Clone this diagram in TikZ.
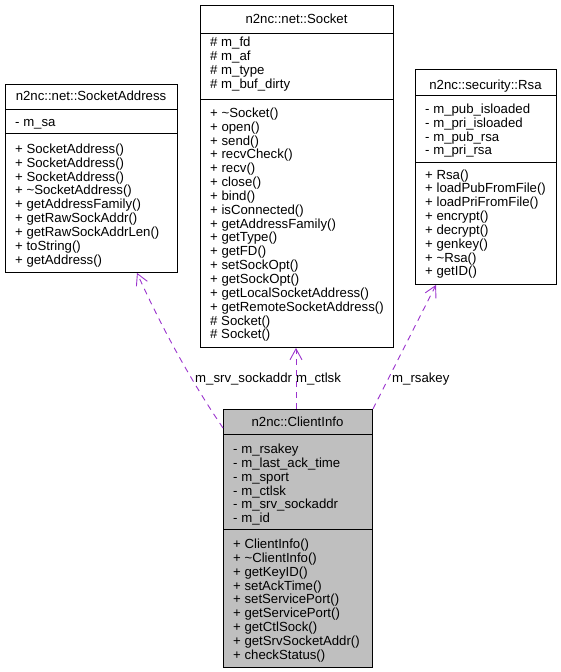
\documentclass[tikz,border=0pt]{standalone}
\usepackage{fontspec}
\setmainfont{Liberation Sans}
\usetikzlibrary{arrows.meta,calc}
\definecolor{usecol}{HTML}{9A32CD}
\definecolor{cifill}{HTML}{BFBFBF}
\tikzset{
  cls/.style={draw=black, line width=0.9pt, inner sep=0pt, anchor=north west},
  sepline/.style={draw=black, line width=0.9pt},
  row/.style={inner sep=0pt, anchor=base west, font=\fontsize{13.2}{13.85}\selectfont},
  ttl/.style={inner sep=0pt, anchor=base, font=\fontsize{13.2}{13.85}\selectfont},
  uses/.style={draw=usecol, line width=0.9pt, dash pattern=on 6pt off 5pt,
    -{Straight Barb[length=11pt,width=12pt,line width=0.9pt]}},
  lbl/.style={inner sep=0pt, anchor=base west, font=\fontsize{13.2}{13.85}\selectfont}
}
\begin{document}
\begin{tikzpicture}[x={(1pt,0)}, y={(0,-1pt)}]
\useasboundingbox (0,0) rectangle (560,672);

% ---- n2nc::net::SocketAddress
\node[cls, minimum width=172pt, minimum height=188pt] (sa) at (5,84) {};
\draw[sepline] (5,109) -- (177,109);
\draw[sepline] (5,133) -- (177,133);
\node[ttl] (sa-t) at (91,100.7) {n2nc::net::SocketAddress};
\node[row] (sa-a1) at (15,126.7) {- m\_sa};
\foreach \t [count=\i] in {+ SocketAddress(), + SocketAddress(), + SocketAddress(),
  + \textasciitilde SocketAddress(), + getAddressFamily(), + getRawSockAddr(),
  + getRawSockAddrLen(), + toString(), + getAddress()}
  \node[row] (sa-m\i) at (15,{153.3+(\i-1)*13.85}) {\t};

% ---- n2nc::net::Socket
\node[cls, minimum width=193pt, minimum height=342pt] (sock) at (200,5) {};
\draw[sepline] (200,33) -- (393,33);
\draw[sepline] (200,99) -- (393,99);
\node[ttl] (sock-t) at (296.5,23) {n2nc::net::Socket};
\foreach \t [count=\i] in {\# m\_fd, \# m\_af, \# m\_type, \# m\_buf\_dirty}
  \node[row] (sock-a\i) at (210,{46.7+(\i-1)*13.85}) {\t};
\foreach \t [count=\i] in {+ \textasciitilde Socket(), + open(), + send(), + recvCheck(),
  + recv(), + close(), + bind(), + isConnected(), + getAddressFamily(), + getType(),
  + getFD(), + setSockOpt(), + getSockOpt(), + getLocalSocketAddress(),
  + getRemoteSocketAddress(), \# Socket(), \# Socket()}
  \node[row] (sock-m\i) at (210,{117.3+(\i-1)*13.85}) {\t};

% ---- n2nc::security::Rsa
\node[cls, minimum width=141pt, minimum height=215pt] (rsa) at (415,69) {};
\draw[sepline] (415,95) -- (556,95);
\draw[sepline] (415,162) -- (556,162);
\node[ttl] (rsa-t) at (485.5,89) {n2nc::security::Rsa};
\foreach \t [count=\i] in {- m\_pub\_isloaded, - m\_pri\_isloaded, - m\_pub\_rsa, - m\_pri\_rsa}
  \node[row] (rsa-a\i) at (425,{113.3+(\i-1)*13.85}) {\t};
\foreach \t [count=\i] in {+ Rsa(), + loadPubFromFile(), + loadPriFromFile(), + encrypt(),
  + decrypt(), + genkey(), + \textasciitilde Rsa(), + getID()}
  \node[row] (rsa-m\i) at (425,{179+(\i-1)*13.85}) {\t};

% ---- n2nc::ClientInfo
\node[cls, fill=cifill, minimum width=149pt, minimum height=258pt] (ci) at (223,409) {};
\draw[sepline] (223,434) -- (372,434);
\draw[sepline] (223,529) -- (372,529);
\node[ttl] (ci-t) at (297.5,426) {n2nc::ClientInfo};
\foreach \t [count=\i] in {- m\_rsakey, - m\_last\_ack\_time, - m\_sport, - m\_ctlsk,
  - m\_srv\_sockaddr, - m\_id}
  \node[row] (ci-a\i) at (233,{453.3+(\i-1)*13.9}) {\t};
\foreach \t [count=\i] in {+ ClientInfo(), + \textasciitilde ClientInfo(), + getKeyID(),
  + setAckTime(), + setServicePort(), + getServicePort(), + getCtlSock(),
  + getSrvSocketAddr(), + checkStatus()}
  \node[row] (ci-m\i) at (233,{548.3+(\i-1)*13.9}) {\t};

% ---- connectors
\coordinate (e1a) at ($(ci.north west)+(0,19)$);
\coordinate (e1b) at ($(sa.south west)+(132,0)$);
\coordinate (e2a) at ($(ci.north west)+(73,0)$);
\coordinate (e2b) at ($(sock.south west)+(96,0)$);
\coordinate (e3a) at (ci.north east);
\coordinate (e3b) at ($(rsa.south west)+(21,0)$);
\draw[uses] (e1a) .. controls (189,378) and (160,324) .. (e1b);
\draw[uses] (e2a) -- (e2b);
\draw[uses] (e3a) -- (e3b);
\node[lbl] (l1) at (195,382) {m\_srv\_sockaddr};
\node[lbl] (l2) at (296,382) {m\_ctlsk};
\node[lbl] (l3) at (392,382) {m\_rsakey};
\end{tikzpicture}
\end{document}
